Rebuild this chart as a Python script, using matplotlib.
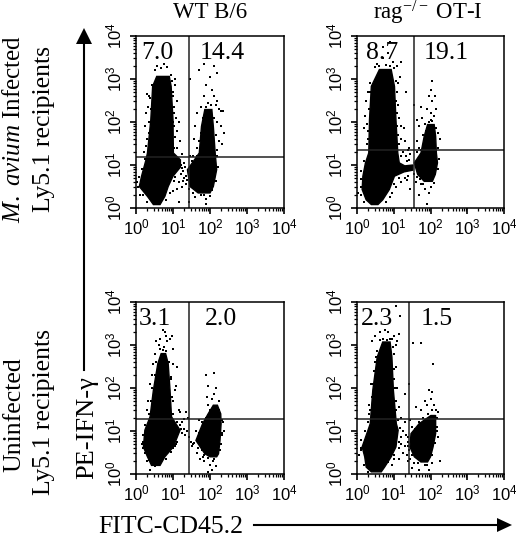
import numpy as np
import matplotlib
matplotlib.use("Agg")
import matplotlib.pyplot as plt
from matplotlib.ticker import LogLocator, NullFormatter, FixedFormatter, FixedLocator

plt.rcParams['font.family'] = ['Liberation Serif', 'DejaVu Sans']
plt.rcParams['mathtext.fontset'] = 'custom'
plt.rcParams['mathtext.rm'] = 'Liberation Serif'
plt.rcParams['mathtext.it'] = 'Liberation Serif:italic'
plt.rcParams['mathtext.sf'] = 'Liberation Sans'
plt.rcParams['mathtext.default'] = 'regular'

# all event values, as log10 of fluorescence (x, y)
# dense clouds are kept as outlines, the loose events as single points

# WT B/6, infected
a_left = [(0.47,0.08),(0.31,0.27),(0.09,0.5),(0.15,0.74),(0.27,1.12),(0.31,1.28),(0.4,2.05),(0.45,2.83),(0.56,3.06),(0.9,3.06),
          (0.95,2.83),(1.0,2.05),(1.01,1.28),(1.2,1.12),(1.2,0.95),(1.0,0.74),(0.87,0.5),(0.78,0.27),(0.65,0.08)]
a_right = [(1.86,2.29),(2.05,2.29),(2.09,1.9),(2.14,1.28),(2.18,0.89),(2.09,0.5),(2.0,0.35),(1.68,0.35),(1.46,0.5),(1.39,0.89),
           (1.71,1.28),(1.77,1.9)]
a_dots = [(0.5,3.2),(0.58,3.3),(0.67,3.25),(0.75,3.35),(0.85,3.28),(0.95,3.1),(1.05,3.0),(0.42,2.85),(0.35,2.6),(0.3,2.65),
          (0.28,2.2),(0.33,2.35),(0.25,1.9),(0.3,1.6),(0.22,1.3),(1.05,2.85),(1.1,2.5),(1.0,2.7),(1.03,2.35),(1.08,2.1),
          (1.15,2.0),(1.12,1.8),(1.0,2.0),(1.05,1.65),(1.18,1.55),(1.1,1.4),(1.0,1.5),(1.25,1.25),(1.3,1.05),(1.2,1.1),
          (1.35,0.75),(1.05,0.72),(1.15,0.6),(1.25,0.5),(1.1,0.45),(1.42,0.15),(1.15,0.15),(1.0,0.4),(0.05,0.5),(0.12,0.3),
          (0.3,0.15),(1.45,3.0),(1.7,3.2),(1.85,3.35),(2.1,3.3),(2.2,3.15),(2.0,3.05),(1.9,2.85),(2.05,2.75),(2.12,2.6),
          (1.85,2.6),(1.75,2.35),(1.65,2.2),(1.6,1.9),(1.58,1.6),(1.65,1.4),(1.55,1.2),(2.2,2.5),(2.25,2.3),(2.3,2.25),
          (2.15,2.4),(2.35,2.25),(2.2,2.0),(2.3,1.9),(2.38,1.75),(2.25,1.55),(2.32,1.5),(2.2,1.35),(1.9,0.2),(1.9,0.1),
          (1.85,0.3),(1.6,0.25),(1.55,0.35),(2.0,0.28),(1.45,1.2),(1.5,1.1),(1.28,0.85),(1.33,0.95),(1.22,0.78),(1.38,0.65),
          (0.38,2.55),(0.4,2.3),(0.36,2.0),(0.35,1.75),(0.28,1.45),(0.24,1.15),(0.15,0.9),(0.08,0.72),(0.04,0.6),(0.2,0.3),
          (0.98,2.95),(1.0,2.6),(1.04,2.2),(1.04,1.9),(1.03,1.4),(1.22,1.0),(1.25,0.92),(1.02,0.62),(0.92,0.35),(0.8,0.18),
          (1.8,2.1),(1.75,1.75),(1.7,1.55),(1.66,1.22),(1.6,1.05),(1.5,0.98),(2.12,2.1),(2.15,1.7),(2.18,1.2),(2.22,0.95),
          (2.15,0.62),(2.05,0.42),(1.75,0.3),(1.42,0.45),(1.95,2.45),(2.02,2.4),(1.88,2.35),(1.3,0.7),(1.27,0.62),(1.35,0.55)]

# rag-/- OT-I, infected
b_left = [(0.39,0.08),(0.25,0.19),(0.14,0.43),(0.16,0.74),(0.23,1.05),(0.32,1.28),(0.34,2.05),(0.39,2.83),(0.61,3.22),(0.93,3.22),
          (1.02,2.83),(1.06,2.05),(1.11,1.28),(1.15,1.05),(1.3,0.98),(1.52,1.0),(1.52,0.88),(1.28,0.84),(1.02,0.74),(0.88,0.43),
          (0.7,0.19),(0.57,0.08)]
b_right = [(1.92,1.94),(2.1,1.94),(2.14,1.67),(2.16,1.28),(2.19,1.05),(2.13,0.78),(2.05,0.62),(1.83,0.62),(1.65,0.78),(1.56,1.05),
           (1.74,1.28),(1.83,1.67)]
b_dots = [(0.55,3.35),(0.7,3.5),(0.85,3.6),(0.72,3.75),(0.9,3.85),(0.98,3.4),(1.2,3.4),(1.1,3.3),(1.0,3.25),(1.18,3.05),
          (1.33,2.7),(1.12,2.9),(0.36,2.9),(0.3,2.7),(0.25,2.5),(0.22,2.15),(0.28,1.95),(0.2,1.85),(0.3,1.6),(1.1,2.7),
          (1.12,2.4),(1.07,2.5),(1.15,2.1),(1.2,1.9),(1.28,1.85),(1.12,1.7),(1.3,1.55),(1.2,1.6),(1.38,1.35),(1.25,1.3),
          (1.42,1.4),(1.32,1.2),(1.45,1.25),(1.05,0.5),(1.2,0.6),(1.3,0.7),(0.95,0.35),(0.9,0.25),(0.03,0.35),(0.1,0.5),
          (1.55,2.4),(1.75,2.35),(1.78,2.1),(1.62,2.05),(1.7,1.9),(1.62,1.55),(1.7,1.4),(1.62,1.3),(1.8,1.7),(1.85,1.95),
          (1.9,2.3),(1.95,2.6),(2.0,2.75),(2.05,2.5),(2.12,2.6),(2.03,2.95),(2.0,2.2),(2.1,2.15),(2.15,2.3),(2.0,2.05),
          (2.2,1.75),(2.25,1.6),(1.9,0.1),(1.95,0.35),(1.85,0.45),(2.02,0.5),(1.75,0.55),(1.6,0.6),(1.45,0.45),(1.7,0.3),
          (0.5,3.28),(0.6,3.3),(0.78,3.32),(0.9,3.3),(0.36,2.7),(0.32,2.3),(0.31,1.8),(0.28,1.5),(0.2,1.1),(0.12,0.85),
          (0.1,0.68),(0.1,0.3),(0.18,0.14),(1.05,2.95),(1.08,2.2),(1.1,1.9),(1.14,1.5),(1.2,1.2),(1.35,1.1),(1.42,1.12),
          (1.1,0.78),(1.15,0.7),(1.0,0.55),(0.8,0.15),(1.55,0.8),(1.62,0.72),(1.72,0.68),(1.8,0.55),(2.1,0.58),(2.2,0.9),
          (2.22,1.15),(2.2,1.4),(1.75,1.35),(1.72,1.15),(1.88,1.8),(1.95,2.0),(2.05,2.02),(2.16,1.85),(1.4,0.75),(1.35,0.65)]

# WT B/6, uninfected
c_left = [(0.42,0.2),(0.31,0.4),(0.2,0.63),(0.24,1.02),(0.38,1.33),(0.47,1.95),(0.59,2.57),(0.68,2.8),(0.8,2.8),(0.87,2.57),
          (0.92,1.95),(0.96,1.33),(1.19,1.02),(1.01,0.63),(0.78,0.4),(0.65,0.2)]
c_right = [(2.09,1.6),(2.2,1.6),(2.29,1.4),(2.3,1.17),(2.27,0.78),(2.23,0.47),(2.18,0.4),(2.0,0.4),(1.86,0.47),(1.62,0.78),
           (1.8,1.17),(1.95,1.4)]
c_dots = [(0.72,3.35),(0.78,3.3),(0.65,3.15),(0.55,3.1),(0.62,3.0),(0.85,3.1),(0.92,3.15),(0.98,3.2),(1.0,2.9),(0.75,2.95),
          (0.8,3.2),(0.5,2.8),(0.45,2.55),(0.42,2.3),(0.37,2.1),(0.33,1.7),(0.3,1.5),(1.0,2.55),(1.1,2.5),(0.95,2.25),
          (1.08,2.05),(1.05,1.95),(1.0,1.7),(1.15,1.5),(1.2,1.45),(1.3,1.27),(1.35,1.45),(1.25,1.2),(1.4,1.3),(1.3,1.05),
          (1.2,1.15),(1.38,1.0),(1.33,0.9),(1.43,0.85),(1.1,0.75),(1.05,0.65),(1.0,0.6),(0.15,0.7),(0.2,0.6),(0.3,0.3),
          (0.38,0.1),(0.5,0.18),(1.48,0.75),(1.5,0.65),(1.55,0.7),(1.62,1.0),(1.7,1.25),(1.72,0.35),(1.65,0.5),(1.85,0.3),
          (1.9,2.3),(2.1,2.35),(1.95,2.05),(2.15,2.0),(2.1,1.85),(2.05,1.75),(1.92,1.8),(1.95,1.6),(2.25,1.7),(2.12,1.55),
          (2.35,1.2),(2.38,1.0),(2.32,0.9),(2.08,0.3),(2.0,0.2),(2.15,0.18),(1.95,0.05),(2.05,0.1),(1.85,0.45),
          (0.65,2.9),(0.72,2.88),(0.82,2.85),(0.55,2.6),(0.5,2.3),(0.44,2.0),(0.4,1.7),(0.36,1.4),(0.25,1.15),(0.2,0.9),
          (0.18,0.75),(0.25,0.5),(0.35,0.32),(0.9,2.6),(0.94,2.2),(0.97,1.8),(1.0,1.4),(1.1,1.2),(1.22,1.05),(1.25,0.95),
          (1.08,0.7),(0.95,0.52),(0.82,0.35),(1.7,0.95),(1.58,0.72),(1.68,0.6),(1.78,0.55),(1.82,0.4),(2.32,1.25),(2.33,0.95),
          (2.3,0.7),(2.27,0.55),(2.0,1.5),(2.25,1.5),(1.9,1.3),(1.78,1.2),(2.12,0.35),(1.95,0.38)]

# rag-/- OT-I, uninfected
d_left = [(0.39,0.05),(0.25,0.16),(0.21,0.4),(0.14,0.63),(0.3,1.02),(0.36,1.17),(0.43,1.95),(0.55,2.72),(0.7,3.07),(0.9,3.07),
          (0.95,2.72),(0.99,1.95),(1.07,1.17),(1.12,1.02),(1.06,0.63),(0.93,0.4),(0.75,0.16),(0.66,0.05)]
d_right = [(2.01,1.36),(2.14,1.36),(2.14,0.94),(2.07,0.63),(2.0,0.4),(1.92,0.28),(1.74,0.28),(1.56,0.4),(1.44,0.63),(1.47,0.94),
           (1.69,1.17)]
d_dots = [(1.05,3.9),(1.18,3.68),(1.52,3.05),(1.75,3.05),(2.08,2.55),(1.42,2.1),(1.3,1.85),(0.4,3.1),(0.5,3.2),(0.62,3.3),
          (0.75,3.35),(0.85,3.3),(0.95,3.15),(1.0,3.2),(1.05,3.0),(1.1,3.1),(1.15,3.25),(0.55,2.85),(0.5,2.6),(0.45,2.4),
          (0.38,2.1),(0.33,1.6),(0.36,1.5),(1.0,2.8),(1.05,2.5),(1.0,2.2),(1.1,2.0),(1.05,1.7),(1.15,1.55),(1.2,1.3),
          (1.3,1.2),(1.25,1.0),(1.32,0.9),(1.15,0.75),(1.2,0.7),(1.3,0.65),(1.25,0.5),(1.35,0.45),(1.15,0.35),(1.4,0.3),
          (1.38,0.75),(1.0,0.35),(0.95,0.2),(0.05,0.45),(0.1,0.6),(0.18,0.2),(0.3,0.05),(1.45,1.25),(1.5,1.1),(1.58,1.05),
          (1.95,1.95),(2.05,1.9),(2.0,1.75),(1.9,1.6),(1.85,1.7),(2.1,1.6),(2.15,1.5),(2.2,1.45),(2.05,1.5),(1.75,1.5),
          (1.6,1.55),(2.18,1.1),(2.2,0.85),(2.25,0.3),(1.85,0.2),(1.7,0.1),(1.95,0.1),(1.55,0.25),(1.5,0.15),(2.05,0.25),
          (0.62,3.12),(0.72,3.15),(0.82,3.12),(0.9,3.14),(0.52,2.72),(0.48,2.4),(0.42,2.1),(0.4,1.8),(0.33,1.4),(0.3,1.2),
          (0.22,1.0),(0.12,0.8),(0.1,0.55),(0.98,2.95),(1.0,2.45),(1.03,2.0),(1.07,1.5),(1.12,1.25),(1.18,1.08),(1.2,0.85),
          (1.14,0.6),(1.02,0.45),(0.85,0.28),(1.4,0.85),(1.4,0.65),(1.42,0.55),(1.5,0.45),(1.6,1.02),(1.7,1.22),(1.8,1.3),
          (1.92,1.4),(2.18,1.3),(2.18,1.0),(2.12,0.72),(2.05,0.45),(1.9,0.22),(1.65,0.25),(1.45,0.35)]

titles = ["WT B/6", "rag$^{-/-}$ OT-I"]
upper_pct = [("7.0", "14.4"), ("8.7", "19.1")]
lower_pct = [("3.1", "2.0"), ("2.3", "1.5")]
gates_x = [1.42, 1.56, 1.42, 1.41]
gates_y = [1.19, 1.35, 1.27, 1.27]
decades = [0, 1, 2, 3, 4]
tick_labels = [r"$\mathsf{10^{%d}}$" % d for d in decades]

W, H = 516, 540
fig = plt.figure(figsize=(W / 100, H / 100), dpi=100, facecolor='white')


def px_axes(left, top, right, bottom):
    return fig.add_axes([left / W, 1 - bottom / H, (right - left) / W, (bottom - top) / H])


def px_text(x, y, s, size=14, **kw):
    fig.text(x / W, 1 - y / H, s, fontsize=size, ha='center', va='center', **kw)


panels = [
    ((136, 36, 284, 208), a_left, a_right, a_dots),
    ((357, 36, 504, 208), b_left, b_right, b_dots),
    ((136, 302, 284, 474), c_left, c_right, c_dots),
    ((357, 302, 504, 474), d_left, d_right, d_dots),
]

for i, (box, left, right, dots) in enumerate(panels):
    ax = px_axes(*box)
    ax.set_xscale('log')
    ax.set_yscale('log')
    ax.set_xlim(1, 1e4)
    ax.set_ylim(1, 1e4)
    for blob in (left, right):
        pts = 10.0 ** np.array(blob)
        ax.fill(pts[:, 0], pts[:, 1], color='black', lw=1)
    pts = 10.0 ** np.array(dots)
    ax.scatter(pts[:, 0], pts[:, 1], s=1.1, c='black', marker='s', linewidths=0)
    ax.axvline(10.0 ** gates_x[i], color='#222222', lw=1.1)
    ax.axhline(10.0 ** gates_y[i], color='#222222', lw=1.1)

    for axis in (ax.xaxis, ax.yaxis):
        axis.set_major_locator(FixedLocator([10.0 ** d for d in decades]))
        axis.set_major_formatter(FixedFormatter(tick_labels))
        axis.set_minor_locator(LogLocator(base=10, subs=np.arange(2, 10), numticks=10))
        axis.set_minor_formatter(NullFormatter())
    ax.tick_params(which='major', length=4, width=1.2, labelsize=12, pad=3.5)
    ax.tick_params(which='minor', length=2.5, width=0.9)
    for lab in ax.get_yticklabels():
        lab.set_rotation(90)
        lab.set_va('center')
    for sp in ax.spines.values():
        sp.set_linewidth(1.1)

# column titles
px_text(210, 13, titles[0], size=16.5)
px_text(428, 13, titles[1], size=16.5)

# gate percentages
px_text(157, 53, upper_pct[0][0], size=18.5)
px_text(222, 53, upper_pct[0][1], size=18.5)
px_text(382, 53, upper_pct[1][0], size=18.5)
px_text(446, 53, upper_pct[1][1], size=18.5)
px_text(155, 319, lower_pct[0][0], size=18.5)
px_text(221, 319, lower_pct[0][1], size=18.5)
px_text(377, 319, lower_pct[1][0], size=18.5)
px_text(437, 319, lower_pct[1][1], size=18.5)

# row labels
px_text(14, 129, r"$\mathit{M.\ avium}$ Infected", size=18, rotation=90)
px_text(44, 129, "Ly5.1 recipients", size=18.5, rotation=90)
px_text(14, 415, "Uninfected", size=18.5, rotation=90)
px_text(44, 412, "Ly5.1 recipients", size=18.5, rotation=90)
px_text(87, 428, "PE-IFN-γ", size=19, rotation=90)
px_text(171, 527, "FITC-CD45.2", size=18.5)

# axis arrows
over = fig.add_axes([0, 0, 1, 1], facecolor='none')
over.set_xlim(0, W)
over.set_ylim(H, 0)
over.axis('off')
over.plot([84, 84], [370, 40], color='black', lw=1.5)
over.fill([76, 92, 84], [44, 44, 28], color='black', lw=0)
over.plot([254, 500], [525, 525], color='black', lw=1.5)
over.fill([497, 497, 512], [518, 532, 525], color='black', lw=0)

fig.savefig("out.png", dpi=100)
